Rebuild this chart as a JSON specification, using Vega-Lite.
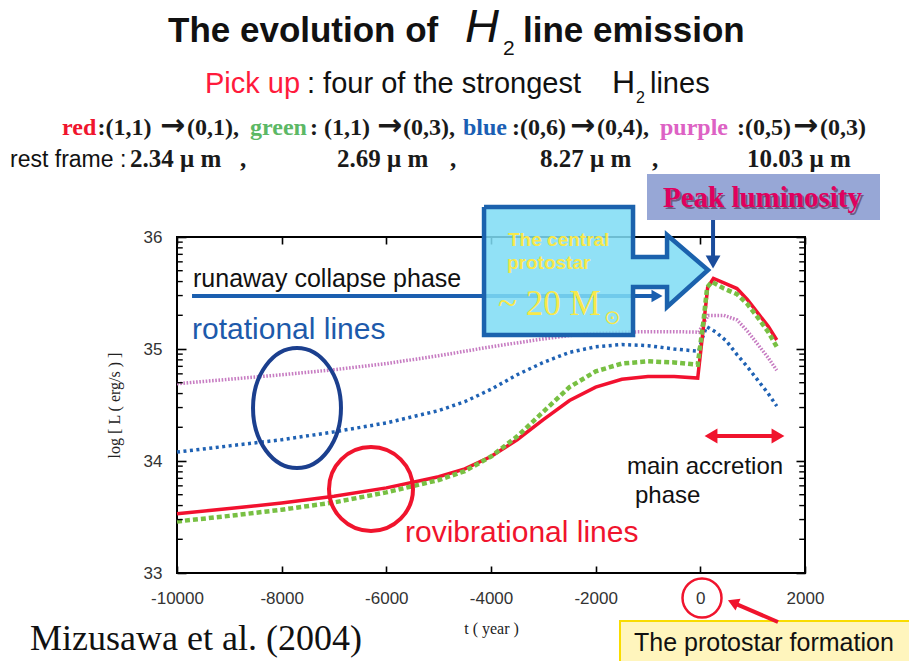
{
"$schema":"https://vega.github.io/schema/vega-lite/v6.json",
"width":628,"height":336,
"autosize":{"type":"none"},
"padding":{"left":177,"top":237,"right":104,"bottom":88},
"background":"#ffffff",
"config":{"view":{"stroke":"#000000","strokeWidth":2},"axis":{"grid":false,"domain":false,"tickColor":"#000000","tickWidth":1.6,"labelFont":"Liberation Sans","labelColor":"#333333","titleFont":"Liberation Serif","titleFontWeight":"normal","titleColor":"#222222","titleFontSize":16}},
"datasets":{
"curves":[
{"s":"red","t":-10000,"L":33.53},{"s":"red","t":-9000,"L":33.575},{"s":"red","t":-8000,"L":33.625},{"s":"red","t":-7000,"L":33.685},{"s":"red","t":-6000,"L":33.76},{"s":"red","t":-5000,"L":33.86},{"s":"red","t":-4500,"L":33.93},{"s":"red","t":-4000,"L":34.04},{"s":"red","t":-3500,"L":34.19},{"s":"red","t":-3000,"L":34.37},{"s":"red","t":-2500,"L":34.54},{"s":"red","t":-2000,"L":34.66},{"s":"red","t":-1500,"L":34.73},{"s":"red","t":-1000,"L":34.755},{"s":"red","t":-500,"L":34.755},{"s":"red","t":-50,"L":34.74},{"s":"red","t":60,"L":35.2},{"s":"red","t":140,"L":35.55},{"s":"red","t":250,"L":35.63},{"s":"red","t":450,"L":35.59},{"s":"red","t":700,"L":35.54},{"s":"red","t":900,"L":35.44},{"s":"red","t":1100,"L":35.32},{"s":"red","t":1300,"L":35.2},{"s":"red","t":1460,"L":35.08},
{"s":"green","t":-10000,"L":33.46},{"s":"green","t":-9000,"L":33.51},{"s":"green","t":-8000,"L":33.565},{"s":"green","t":-7000,"L":33.63},{"s":"green","t":-6000,"L":33.72},{"s":"green","t":-5000,"L":33.83},{"s":"green","t":-4500,"L":33.91},{"s":"green","t":-4000,"L":34.04},{"s":"green","t":-3500,"L":34.22},{"s":"green","t":-3000,"L":34.44},{"s":"green","t":-2500,"L":34.66},{"s":"green","t":-2000,"L":34.8},{"s":"green","t":-1500,"L":34.87},{"s":"green","t":-1000,"L":34.89},{"s":"green","t":-500,"L":34.88},{"s":"green","t":-50,"L":34.86},{"s":"green","t":60,"L":35.25},{"s":"green","t":130,"L":35.55},{"s":"green","t":220,"L":35.6},{"s":"green","t":450,"L":35.54},{"s":"green","t":700,"L":35.49},{"s":"green","t":900,"L":35.4},{"s":"green","t":1100,"L":35.28},{"s":"green","t":1300,"L":35.15},{"s":"green","t":1460,"L":35.02},
{"s":"blue","t":-10000,"L":34.08},{"s":"blue","t":-9000,"L":34.135},{"s":"blue","t":-8000,"L":34.19},{"s":"blue","t":-7000,"L":34.26},{"s":"blue","t":-6000,"L":34.34},{"s":"blue","t":-5000,"L":34.45},{"s":"blue","t":-4500,"L":34.53},{"s":"blue","t":-4000,"L":34.64},{"s":"blue","t":-3500,"L":34.77},{"s":"blue","t":-3000,"L":34.88},{"s":"blue","t":-2500,"L":34.97},{"s":"blue","t":-2000,"L":35.02},{"s":"blue","t":-1500,"L":35.04},{"s":"blue","t":-1000,"L":35.03},{"s":"blue","t":-500,"L":35.0},{"s":"blue","t":-30,"L":34.98},{"s":"blue","t":40,"L":35.1},{"s":"blue","t":120,"L":35.2},{"s":"blue","t":300,"L":35.15},{"s":"blue","t":500,"L":35.07},{"s":"blue","t":700,"L":34.95},{"s":"blue","t":900,"L":34.84},{"s":"blue","t":1100,"L":34.72},{"s":"blue","t":1300,"L":34.6},{"s":"blue","t":1460,"L":34.49},
{"s":"purple","t":-10000,"L":34.69},{"s":"purple","t":-9000,"L":34.73},{"s":"purple","t":-8000,"L":34.77},{"s":"purple","t":-7000,"L":34.815},{"s":"purple","t":-6000,"L":34.87},{"s":"purple","t":-5000,"L":34.94},{"s":"purple","t":-4000,"L":35.02},{"s":"purple","t":-3000,"L":35.09},{"s":"purple","t":-2500,"L":35.12},{"s":"purple","t":-2000,"L":35.14},{"s":"purple","t":-1500,"L":35.15},{"s":"purple","t":-1000,"L":35.155},{"s":"purple","t":-500,"L":35.155},{"s":"purple","t":-30,"L":35.15},{"s":"purple","t":150,"L":35.3},{"s":"purple","t":450,"L":35.3},{"s":"purple","t":700,"L":35.26},{"s":"purple","t":900,"L":35.16},{"s":"purple","t":1100,"L":35.04},{"s":"purple","t":1300,"L":34.92},{"s":"purple","t":1460,"L":34.81}
],
"minor":[{"L":33.30103},{"L":33.47712},{"L":33.60206},{"L":33.69897},{"L":33.77815},{"L":33.8451},{"L":33.90309},{"L":33.95424},{"L":34.30103},{"L":34.47712},{"L":34.60206},{"L":34.69897},{"L":34.77815},{"L":34.8451},{"L":34.90309},{"L":34.95424},{"L":35.30103},{"L":35.47712},{"L":35.60206},{"L":35.69897},{"L":35.77815},{"L":35.8451},{"L":35.90309},{"L":35.95424}],
"bigarrow":[{"i":1,"t":-4133,"L":36.268},{"i":2,"t":-1286,"L":36.268},{"i":3,"t":-1286,"L":35.821},{"i":4,"t":-636,"L":35.821},{"i":5,"t":-636,"L":36.018},{"i":6,"t":147,"L":35.705},{"i":7,"t":-636,"L":35.375},{"i":8,"t":-636,"L":35.554},{"i":9,"t":-1286,"L":35.554},{"i":10,"t":-1286,"L":35.125},{"i":11,"t":-4133,"L":35.125},{"i":12,"t":-4133,"L":36.268}],
"rects":[{"g":"peak","t":-1019,"t2":3433,"L":36.5625,"L2":36.152},{"g":"yellow","t":-1535,"t2":4300,"L":32.571,"L2":32.0}],
"rules":[{"g":"runaway","t":-9713,"t2":-790,"L":35.473,"L2":35.473},{"g":"peak","t":243,"t2":243,"L":36.152,"L2":35.8},{"g":"red","t":204,"t2":1484,"L":34.223,"L2":34.223},{"g":"red","t":1484,"t2":600,"L":32.5625,"L2":32.74}],
"heads":[{"g":"runaway","t":-828,"L":35.473},{"g":"peak","t":243,"L":35.777},{"g":"left","t":204,"L":34.223},{"g":"right","t":1484,"L":34.223},{"g":"diag","t":624,"L":32.737}],
"rings":[{"g":"ellipse","t":-7707,"L":34.473},{"g":"big","t":-6293,"L":33.75},{"g":"small","t":32,"L":32.777}],
"labels":[
{"g":"title","t":-10172,"L":37.741,"text":"The evolution of"},
{"g":"title","t":-3389,"L":37.741,"text":"line emission"},
{"g":"titleH","t":-4497,"L":37.741,"text":"H"},
{"g":"titleSub","t":-3771,"L":37.625,"text":"2"},
{"g":"pick","t":-9465,"L":37.286,"text":"Pick up"},
{"g":"line2","t":-7516,"L":37.286,"text":": four of the strongest"},
{"g":"line2","t":-962,"L":37.286,"text":"lines"},
{"g":"line2H","t":-1688,"L":37.286,"text":"H"},
{"g":"line2Sub","t":-1229,"L":37.196,"text":"2"},
{"g":"line3","c":"red","t":-12197,"L":36.911,"text":"red"},
{"g":"line3","c":"black","t":-11520,"L":36.911,"text":":(1,1)"},
{"g":"arrow","t":-10325,"L":36.911,"text":"→"},
{"g":"line3","c":"black","t":-9809,"L":36.911,"text":"(0,1),"},
{"g":"line3","c":"green","t":-8605,"L":36.911,"text":"green"},
{"g":"line3","c":"black","t":-7459,"L":36.911,"text":": (1,1)"},
{"g":"arrow","t":-6178,"L":36.911,"text":"→"},
{"g":"line3","c":"black","t":-5682,"L":36.911,"text":"(0,3),"},
{"g":"line3","c":"blue","t":-4535,"L":36.911,"text":"blue"},
{"g":"line3","c":"black","t":-3599,"L":36.911,"text":":(0,6)"},
{"g":"arrow","t":-2491,"L":36.911,"text":"→"},
{"g":"line3","c":"black","t":-1975,"L":36.911,"text":"(0,4),"},
{"g":"line3","c":"purple","t":-771,"L":36.911,"text":"purple"},
{"g":"line3","c":"black","t":700,"L":36.911,"text":":(0,5)"},
{"g":"arrow","t":1771,"L":36.911,"text":"→"},
{"g":"line3","c":"black","t":2286,"L":36.911,"text":"(0,3)"},
{"g":"rest","t":-13191,"L":36.625,"text":"rest frame :"},
{"g":"line4","t":-10898,"L":36.625,"text":"2.34 μ m"},
{"g":"line4","t":-8796,"L":36.625,"text":","},
{"g":"line4","t":-6943,"L":36.625,"text":"2.69 μ m"},
{"g":"line4","t":-4784,"L":36.625,"text":","},
{"g":"line4","t":-3064,"L":36.625,"text":"8.27 μ m"},
{"g":"line4","t":-924,"L":36.625,"text":","},
{"g":"line4","t":892,"L":36.625,"text":"10.03 μ m"},
{"g":"peak","t":-714,"L":36.268,"text":"Peak luminosity"},
{"g":"yellowBold","t":-3675,"L":35.92,"text":"The central"},
{"g":"yellowBold","t":-3694,"L":35.714,"text":"protostar"},
{"g":"yellowSerif","t":-3866,"L":35.304,"text":"~ 20 M"},
{"g":"sun","t":-1842,"L":35.223,"text":"⊙"},
{"g":"runaway","t":-9694,"L":35.554,"text":"runaway collapse phase"},
{"g":"rot","t":-9713,"L":35.089,"text":"rotational lines"},
{"g":"rovib","t":-5643,"L":33.277,"text":"rovibrational lines"},
{"g":"accretion","t":-1401,"L":33.884,"text":"main accretion"},
{"g":"accretion","t":-1249,"L":33.625,"text":"phase"},
{"g":"mizusawa","t":-12809,"L":32.3125,"text":"Mizusawa et al. (2004)"},
{"g":"formation","t":-1268,"L":32.304,"text":"The protostar formation"}
]
},
"resolve":{"axis":{"x":"independent","y":"independent"}},
"layer":[
{"data":{"name":"curves"},"transform":[{"filter":"datum.s==='purple'"}],
 "mark":{"type":"line","color":"#c77cc2","strokeWidth":3.5,"strokeDash":[1.6,1.6]},
 "encoding":{
  "x":{"field":"t","type":"quantitative","scale":{"domain":[-10000,2000],"nice":false,"zero":false},"axis":{"orient":"bottom","values":[-10000,-8000,-6000,-4000,-2000,0,2000],"labelExpr":"datum.value + ''","tickSize":-7,"labelPadding":24,"labelFontSize":17,"labelFlush":false,"labelOverlap":false,"title":"t ( year )","titlePadding":14}},
  "y":{"field":"L","type":"quantitative","scale":{"domain":[33,36],"nice":false,"zero":false},"axis":{"orient":"left","values":[33,34,35,36],"tickSize":-9,"labelPadding":24,"labelFontSize":17,"title":"log [ L ( erg/s ) ]","titlePadding":21}}}},
{"data":{"name":"curves"},"transform":[{"filter":"datum.s==='blue'"}],
 "mark":{"type":"line","color":"#1f62b4","strokeWidth":3.5,"strokeDash":[3,3.5]},
 "encoding":{
  "x":{"field":"t","type":"quantitative","scale":{"domain":[-10000,2000],"nice":false,"zero":false},"axis":{"orient":"top","values":[-10000,-8000,-6000,-4000,-2000,0,2000],"labels":false,"tickSize":-7,"title":null}},
  "y":{"field":"L","type":"quantitative","scale":{"domain":[33,36],"nice":false,"zero":false},"axis":{"orient":"right","values":[33,34,35,36],"labels":false,"tickSize":-9,"title":null}}}},
{"data":{"name":"curves"},"transform":[{"filter":"datum.s==='red'"}],
 "mark":{"type":"line","color":"#f2112f","strokeWidth":3.5},
 "encoding":{
  "x":{"field":"t","type":"quantitative","scale":{"domain":[-10000,2000],"nice":false,"zero":false},"axis":null},
  "y":{"field":"L","type":"quantitative","scale":{"domain":[33,36],"nice":false,"zero":false},"axis":null}}},
{"data":{"name":"curves"},"transform":[{"filter":"datum.s==='green'"}],
 "mark":{"type":"line","color":"#78c043","strokeWidth":4.5,"strokeDash":[5,3]},
 "encoding":{
  "x":{"field":"t","type":"quantitative","scale":{"domain":[-10000,2000],"nice":false,"zero":false},"axis":null},
  "y":{"field":"L","type":"quantitative","scale":{"domain":[33,36],"nice":false,"zero":false},"axis":null}}},
{"data":{"name":"minor"},
 "mark":{"type":"rule","color":"#000000","strokeWidth":1.4},
 "encoding":{
  "x":{"datum":-10000,"type":"quantitative","scale":{"domain":[-10000,2000],"nice":false,"zero":false},"axis":null},
  "x2":{"datum":-9890},
  "y":{"field":"L","type":"quantitative","scale":{"domain":[33,36],"nice":false,"zero":false},"axis":null}}},
{"data":{"name":"minor"},
 "mark":{"type":"rule","color":"#000000","strokeWidth":1.4},
 "encoding":{
  "x":{"datum":1890,"type":"quantitative","scale":{"domain":[-10000,2000],"nice":false,"zero":false},"axis":null},
  "x2":{"datum":2000},
  "y":{"field":"L","type":"quantitative","scale":{"domain":[33,36],"nice":false,"zero":false},"axis":null}}},
{"data":{"name":"rules"},"transform":[{"filter":"datum.g==='runaway'"}],
 "mark":{"type":"rule","color":"#1b5faf","strokeWidth":4},
 "encoding":{
  "x":{"field":"t","type":"quantitative","scale":{"domain":[-10000,2000],"nice":false,"zero":false},"axis":null},"x2":{"field":"t2"},
  "y":{"field":"L","type":"quantitative","scale":{"domain":[33,36],"nice":false,"zero":false},"axis":null},"y2":{"field":"L2"}}},
{"data":{"name":"heads"},"transform":[{"filter":"datum.g==='runaway'"}],
 "mark":{"type":"point","shape":"triangle-right","filled":true,"opacity":1,"size":160,"color":"#1b5faf"},
 "encoding":{
  "x":{"field":"t","type":"quantitative","scale":{"domain":[-10000,2000],"nice":false,"zero":false},"axis":null},
  "y":{"field":"L","type":"quantitative","scale":{"domain":[33,36],"nice":false,"zero":false},"axis":null}}},
{"data":{"name":"bigarrow"},
 "mark":{"type":"line","fill":"#7fdcf5","fillOpacity":0.86,"stroke":"#1b62ad","strokeWidth":4.5,"strokeJoin":"miter"},
 "encoding":{
  "x":{"field":"t","type":"quantitative","scale":{"domain":[-10000,2000],"nice":false,"zero":false},"axis":null},
  "y":{"field":"L","type":"quantitative","scale":{"domain":[33,36],"nice":false,"zero":false},"axis":null},
  "order":{"field":"i","type":"quantitative"}}},
{"data":{"name":"labels"},"transform":[{"filter":"datum.g==='yellowBold'"}],
 "mark":{"type":"text","align":"left","baseline":"alphabetic","font":"Liberation Sans","fontSize":19,"fontWeight":"bold","color":"#f8e84a"},
 "encoding":{
  "x":{"field":"t","type":"quantitative","scale":{"domain":[-10000,2000],"nice":false,"zero":false},"axis":null},
  "y":{"field":"L","type":"quantitative","scale":{"domain":[33,36],"nice":false,"zero":false},"axis":null},"text":{"field":"text"}}},
{"data":{"name":"labels"},"transform":[{"filter":"datum.g==='yellowSerif'"}],
 "mark":{"type":"text","align":"left","baseline":"alphabetic","font":"Liberation Serif","fontSize":35,"color":"#f8e84a"},
 "encoding":{
  "x":{"field":"t","type":"quantitative","scale":{"domain":[-10000,2000],"nice":false,"zero":false},"axis":null},
  "y":{"field":"L","type":"quantitative","scale":{"domain":[33,36],"nice":false,"zero":false},"axis":null},"text":{"field":"text"}}},
{"data":{"name":"labels"},"transform":[{"filter":"datum.g==='sun'"}],
 "mark":{"type":"text","align":"left","baseline":"alphabetic","font":"DejaVu Sans","fontSize":20,"color":"#f8e84a"},
 "encoding":{
  "x":{"field":"t","type":"quantitative","scale":{"domain":[-10000,2000],"nice":false,"zero":false},"axis":null},
  "y":{"field":"L","type":"quantitative","scale":{"domain":[33,36],"nice":false,"zero":false},"axis":null},"text":{"field":"text"}}},
{"data":{"name":"rects"},"transform":[{"filter":"datum.g==='peak'"}],
 "mark":{"type":"rect","color":"#97a7d6"},
 "encoding":{
  "x":{"field":"t","type":"quantitative","scale":{"domain":[-10000,2000],"nice":false,"zero":false},"axis":null},"x2":{"field":"t2"},
  "y":{"field":"L","type":"quantitative","scale":{"domain":[33,36],"nice":false,"zero":false},"axis":null},"y2":{"field":"L2"}}},
{"data":{"name":"rects"},"transform":[{"filter":"datum.g==='yellow'"}],
 "mark":{"type":"rect","fill":"#fff5bd","stroke":"#f9dc00","strokeWidth":2},
 "encoding":{
  "x":{"field":"t","type":"quantitative","scale":{"domain":[-10000,2000],"nice":false,"zero":false},"axis":null},"x2":{"field":"t2"},
  "y":{"field":"L","type":"quantitative","scale":{"domain":[33,36],"nice":false,"zero":false},"axis":null},"y2":{"field":"L2"}}},
{"data":{"name":"labels"},"transform":[{"filter":"datum.g==='peak'"}],
 "mark":{"type":"text","align":"left","baseline":"alphabetic","font":"Liberation Serif","fontSize":29,"fontWeight":"bold","color":"#4a2040","opacity":0.55,"dx":2,"dy":2},
 "encoding":{
  "x":{"field":"t","type":"quantitative","scale":{"domain":[-10000,2000],"nice":false,"zero":false},"axis":null},
  "y":{"field":"L","type":"quantitative","scale":{"domain":[33,36],"nice":false,"zero":false},"axis":null},"text":{"field":"text"}}},
{"data":{"name":"labels"},"transform":[{"filter":"datum.g==='peak'"}],
 "mark":{"type":"text","align":"left","baseline":"alphabetic","font":"Liberation Serif","fontSize":29,"fontWeight":"bold","color":"#e0005e"},
 "encoding":{
  "x":{"field":"t","type":"quantitative","scale":{"domain":[-10000,2000],"nice":false,"zero":false},"axis":null},
  "y":{"field":"L","type":"quantitative","scale":{"domain":[33,36],"nice":false,"zero":false},"axis":null},"text":{"field":"text"}}},
{"data":{"name":"rules"},"transform":[{"filter":"datum.g==='peak'"}],
 "mark":{"type":"rule","color":"#1a4c9c","strokeWidth":4},
 "encoding":{
  "x":{"field":"t","type":"quantitative","scale":{"domain":[-10000,2000],"nice":false,"zero":false},"axis":null},"x2":{"field":"t2"},
  "y":{"field":"L","type":"quantitative","scale":{"domain":[33,36],"nice":false,"zero":false},"axis":null},"y2":{"field":"L2"}}},
{"data":{"name":"heads"},"transform":[{"filter":"datum.g==='peak'"}],
 "mark":{"type":"point","shape":"triangle-down","filled":true,"opacity":1,"size":220,"color":"#1a4c9c"},
 "encoding":{
  "x":{"field":"t","type":"quantitative","scale":{"domain":[-10000,2000],"nice":false,"zero":false},"axis":null},
  "y":{"field":"L","type":"quantitative","scale":{"domain":[33,36],"nice":false,"zero":false},"axis":null}}},
{"data":{"name":"rules"},"transform":[{"filter":"datum.g==='red'"}],
 "mark":{"type":"rule","color":"#f0142d","strokeWidth":4},
 "encoding":{
  "x":{"field":"t","type":"quantitative","scale":{"domain":[-10000,2000],"nice":false,"zero":false},"axis":null},"x2":{"field":"t2"},
  "y":{"field":"L","type":"quantitative","scale":{"domain":[33,36],"nice":false,"zero":false},"axis":null},"y2":{"field":"L2"}}},
{"data":{"name":"heads"},"transform":[{"filter":"datum.g==='left'"}],
 "mark":{"type":"point","shape":"triangle-left","filled":true,"opacity":1,"size":220,"color":"#f0142d"},
 "encoding":{
  "x":{"field":"t","type":"quantitative","scale":{"domain":[-10000,2000],"nice":false,"zero":false},"axis":null},
  "y":{"field":"L","type":"quantitative","scale":{"domain":[33,36],"nice":false,"zero":false},"axis":null}}},
{"data":{"name":"heads"},"transform":[{"filter":"datum.g==='right'"}],
 "mark":{"type":"point","shape":"triangle-right","filled":true,"opacity":1,"size":220,"color":"#f0142d"},
 "encoding":{
  "x":{"field":"t","type":"quantitative","scale":{"domain":[-10000,2000],"nice":false,"zero":false},"axis":null},
  "y":{"field":"L","type":"quantitative","scale":{"domain":[33,36],"nice":false,"zero":false},"axis":null}}},
{"data":{"name":"heads"},"transform":[{"filter":"datum.g==='diag'"}],
 "mark":{"type":"point","shape":"triangle-right","angle":203,"filled":true,"opacity":1,"size":160,"color":"#f0142d"},
 "encoding":{
  "x":{"field":"t","type":"quantitative","scale":{"domain":[-10000,2000],"nice":false,"zero":false},"axis":null},
  "y":{"field":"L","type":"quantitative","scale":{"domain":[33,36],"nice":false,"zero":false},"axis":null}}},
{"data":{"name":"rings"},"transform":[{"filter":"datum.g==='ellipse'"}],
 "mark":{"type":"point","shape":"M-0.733,0A0.733,1,0,1,1,0.733,0A0.733,1,0,1,1,-0.733,0Z","filled":false,"opacity":1,"size":14400,"strokeWidth":4,"color":"#1b3f8e"},
 "encoding":{
  "x":{"field":"t","type":"quantitative","scale":{"domain":[-10000,2000],"nice":false,"zero":false},"axis":null},
  "y":{"field":"L","type":"quantitative","scale":{"domain":[33,36],"nice":false,"zero":false},"axis":null}}},
{"data":{"name":"rings"},"transform":[{"filter":"datum.g==='big'"}],
 "mark":{"type":"point","shape":"circle","filled":false,"opacity":1,"size":7056,"strokeWidth":4,"color":"#f0142d"},
 "encoding":{
  "x":{"field":"t","type":"quantitative","scale":{"domain":[-10000,2000],"nice":false,"zero":false},"axis":null},
  "y":{"field":"L","type":"quantitative","scale":{"domain":[33,36],"nice":false,"zero":false},"axis":null}}},
{"data":{"name":"rings"},"transform":[{"filter":"datum.g==='small'"}],
 "mark":{"type":"point","shape":"circle","filled":false,"opacity":1,"size":1521,"strokeWidth":2.5,"color":"#f0142d"},
 "encoding":{
  "x":{"field":"t","type":"quantitative","scale":{"domain":[-10000,2000],"nice":false,"zero":false},"axis":null},
  "y":{"field":"L","type":"quantitative","scale":{"domain":[33,36],"nice":false,"zero":false},"axis":null}}},
{"data":{"name":"labels"},"transform":[{"filter":"datum.g==='title'"}],
 "mark":{"type":"text","align":"left","baseline":"alphabetic","font":"Liberation Sans","fontSize":35,"fontWeight":"bold","color":"#111111"},
 "encoding":{
  "x":{"field":"t","type":"quantitative","scale":{"domain":[-10000,2000],"nice":false,"zero":false},"axis":null},
  "y":{"field":"L","type":"quantitative","scale":{"domain":[33,36],"nice":false,"zero":false},"axis":null},"text":{"field":"text"}}},
{"data":{"name":"labels"},"transform":[{"filter":"datum.g==='titleH'"}],
 "mark":{"type":"text","align":"left","baseline":"alphabetic","font":"Liberation Sans","fontSize":47,"fontStyle":"italic","color":"#111111"},
 "encoding":{
  "x":{"field":"t","type":"quantitative","scale":{"domain":[-10000,2000],"nice":false,"zero":false},"axis":null},
  "y":{"field":"L","type":"quantitative","scale":{"domain":[33,36],"nice":false,"zero":false},"axis":null},"text":{"field":"text"}}},
{"data":{"name":"labels"},"transform":[{"filter":"datum.g==='titleSub'"}],
 "mark":{"type":"text","align":"left","baseline":"alphabetic","font":"Liberation Sans","fontSize":21,"color":"#111111"},
 "encoding":{
  "x":{"field":"t","type":"quantitative","scale":{"domain":[-10000,2000],"nice":false,"zero":false},"axis":null},
  "y":{"field":"L","type":"quantitative","scale":{"domain":[33,36],"nice":false,"zero":false},"axis":null},"text":{"field":"text"}}},
{"data":{"name":"labels"},"transform":[{"filter":"datum.g==='pick'"}],
 "mark":{"type":"text","align":"left","baseline":"alphabetic","font":"Liberation Sans","fontSize":29,"color":"#ff1a3c"},
 "encoding":{
  "x":{"field":"t","type":"quantitative","scale":{"domain":[-10000,2000],"nice":false,"zero":false},"axis":null},
  "y":{"field":"L","type":"quantitative","scale":{"domain":[33,36],"nice":false,"zero":false},"axis":null},"text":{"field":"text"}}},
{"data":{"name":"labels"},"transform":[{"filter":"datum.g==='line2'"}],
 "mark":{"type":"text","align":"left","baseline":"alphabetic","font":"Liberation Sans","fontSize":29,"color":"#111111"},
 "encoding":{
  "x":{"field":"t","type":"quantitative","scale":{"domain":[-10000,2000],"nice":false,"zero":false},"axis":null},
  "y":{"field":"L","type":"quantitative","scale":{"domain":[33,36],"nice":false,"zero":false},"axis":null},"text":{"field":"text"}}},
{"data":{"name":"labels"},"transform":[{"filter":"datum.g==='line2H'"}],
 "mark":{"type":"text","align":"left","baseline":"alphabetic","font":"Liberation Sans","fontSize":32,"color":"#111111"},
 "encoding":{
  "x":{"field":"t","type":"quantitative","scale":{"domain":[-10000,2000],"nice":false,"zero":false},"axis":null},
  "y":{"field":"L","type":"quantitative","scale":{"domain":[33,36],"nice":false,"zero":false},"axis":null},"text":{"field":"text"}}},
{"data":{"name":"labels"},"transform":[{"filter":"datum.g==='line2Sub'"}],
 "mark":{"type":"text","align":"left","baseline":"alphabetic","font":"Liberation Sans","fontSize":16,"color":"#111111"},
 "encoding":{
  "x":{"field":"t","type":"quantitative","scale":{"domain":[-10000,2000],"nice":false,"zero":false},"axis":null},
  "y":{"field":"L","type":"quantitative","scale":{"domain":[33,36],"nice":false,"zero":false},"axis":null},"text":{"field":"text"}}},
{"data":{"name":"labels"},"transform":[{"filter":"datum.g==='line3'"}],
 "mark":{"type":"text","align":"left","baseline":"alphabetic","font":"Liberation Serif","fontSize":24,"fontWeight":"bold"},
 "encoding":{
  "x":{"field":"t","type":"quantitative","scale":{"domain":[-10000,2000],"nice":false,"zero":false},"axis":null},
  "y":{"field":"L","type":"quantitative","scale":{"domain":[33,36],"nice":false,"zero":false},"axis":null},"text":{"field":"text"},
  "color":{"field":"c","type":"nominal","scale":{"domain":["red","green","blue","purple","black"],"range":["#f0142d","#5cb865","#1b5fb4","#dd62c4","#1a1a1a"]},"legend":null}}},
{"data":{"name":"labels"},"transform":[{"filter":"datum.g==='arrow'"}],
 "mark":{"type":"text","align":"left","baseline":"alphabetic","font":"DejaVu Sans","fontSize":30,"fontWeight":"bold","color":"#1a1a1a"},
 "encoding":{
  "x":{"field":"t","type":"quantitative","scale":{"domain":[-10000,2000],"nice":false,"zero":false},"axis":null},
  "y":{"field":"L","type":"quantitative","scale":{"domain":[33,36],"nice":false,"zero":false},"axis":null},"text":{"field":"text"}}},
{"data":{"name":"labels"},"transform":[{"filter":"datum.g==='rest'"}],
 "mark":{"type":"text","align":"left","baseline":"alphabetic","font":"Liberation Sans","fontSize":23,"color":"#111111"},
 "encoding":{
  "x":{"field":"t","type":"quantitative","scale":{"domain":[-10000,2000],"nice":false,"zero":false},"axis":null},
  "y":{"field":"L","type":"quantitative","scale":{"domain":[33,36],"nice":false,"zero":false},"axis":null},"text":{"field":"text"}}},
{"data":{"name":"labels"},"transform":[{"filter":"datum.g==='line4'"}],
 "mark":{"type":"text","align":"left","baseline":"alphabetic","font":"Liberation Serif","fontSize":25,"fontWeight":"bold","color":"#1a1a1a"},
 "encoding":{
  "x":{"field":"t","type":"quantitative","scale":{"domain":[-10000,2000],"nice":false,"zero":false},"axis":null},
  "y":{"field":"L","type":"quantitative","scale":{"domain":[33,36],"nice":false,"zero":false},"axis":null},"text":{"field":"text"}}},
{"data":{"name":"labels"},"transform":[{"filter":"datum.g==='runaway'"}],
 "mark":{"type":"text","align":"left","baseline":"alphabetic","font":"Liberation Sans","fontSize":25,"color":"#111111"},
 "encoding":{
  "x":{"field":"t","type":"quantitative","scale":{"domain":[-10000,2000],"nice":false,"zero":false},"axis":null},
  "y":{"field":"L","type":"quantitative","scale":{"domain":[33,36],"nice":false,"zero":false},"axis":null},"text":{"field":"text"}}},
{"data":{"name":"labels"},"transform":[{"filter":"datum.g==='rot'"}],
 "mark":{"type":"text","align":"left","baseline":"alphabetic","font":"Liberation Sans","fontSize":30,"color":"#1d5aab"},
 "encoding":{
  "x":{"field":"t","type":"quantitative","scale":{"domain":[-10000,2000],"nice":false,"zero":false},"axis":null},
  "y":{"field":"L","type":"quantitative","scale":{"domain":[33,36],"nice":false,"zero":false},"axis":null},"text":{"field":"text"}}},
{"data":{"name":"labels"},"transform":[{"filter":"datum.g==='rovib'"}],
 "mark":{"type":"text","align":"left","baseline":"alphabetic","font":"Liberation Sans","fontSize":30,"color":"#f0142d"},
 "encoding":{
  "x":{"field":"t","type":"quantitative","scale":{"domain":[-10000,2000],"nice":false,"zero":false},"axis":null},
  "y":{"field":"L","type":"quantitative","scale":{"domain":[33,36],"nice":false,"zero":false},"axis":null},"text":{"field":"text"}}},
{"data":{"name":"labels"},"transform":[{"filter":"datum.g==='accretion'"}],
 "mark":{"type":"text","align":"left","baseline":"alphabetic","font":"Liberation Sans","fontSize":24,"color":"#111111"},
 "encoding":{
  "x":{"field":"t","type":"quantitative","scale":{"domain":[-10000,2000],"nice":false,"zero":false},"axis":null},
  "y":{"field":"L","type":"quantitative","scale":{"domain":[33,36],"nice":false,"zero":false},"axis":null},"text":{"field":"text"}}},
{"data":{"name":"labels"},"transform":[{"filter":"datum.g==='mizusawa'"}],
 "mark":{"type":"text","align":"left","baseline":"alphabetic","font":"Liberation Serif","fontSize":36,"color":"#111111"},
 "encoding":{
  "x":{"field":"t","type":"quantitative","scale":{"domain":[-10000,2000],"nice":false,"zero":false},"axis":null},
  "y":{"field":"L","type":"quantitative","scale":{"domain":[33,36],"nice":false,"zero":false},"axis":null},"text":{"field":"text"}}},
{"data":{"name":"labels"},"transform":[{"filter":"datum.g==='formation'"}],
 "mark":{"type":"text","align":"left","baseline":"alphabetic","font":"Liberation Sans","fontSize":25,"color":"#111111"},
 "encoding":{
  "x":{"field":"t","type":"quantitative","scale":{"domain":[-10000,2000],"nice":false,"zero":false},"axis":null},
  "y":{"field":"L","type":"quantitative","scale":{"domain":[33,36],"nice":false,"zero":false},"axis":null},"text":{"field":"text"}}}
]
}
